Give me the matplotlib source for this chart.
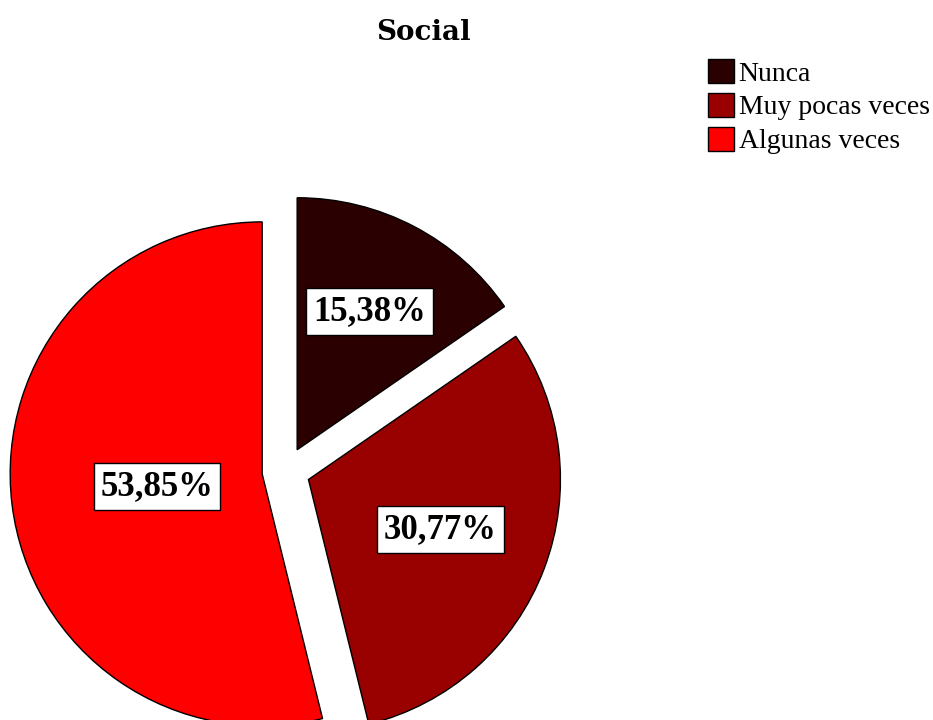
import numpy as np
import matplotlib
matplotlib.use("Agg")
import matplotlib.pyplot as plt

plt.rcParams['font.family'] = ['Liberation Serif', 'DejaVu Serif']

categorias = ['Nunca', 'Muy pocas veces', 'Algunas veces']
porcentajes = [15.38, 30.77, 53.85]
etiquetas = ['15,38%', '30,77%', '53,85%']
colores = ['#2b0000', '#990000', '#ff0000']

# distancia de cada etiqueta desde el vértice del sector (fracción del radio)
dist_etiqueta = [0.62, 0.56, 0.42]

centro = (286, 249)
radio = 252
separacion = 24  # en unidades de datos (píxeles)

fig = plt.figure(figsize=(9.33, 7.2), dpi=100)
ax = fig.add_axes([0, 0, 1, 1])

wedges, _ = ax.pie(porcentajes, colors=colores, startangle=90, counterclock=False,
                   center=centro, radius=radio, explode=[separacion] * 3,
                   wedgeprops=dict(edgecolor='black', linewidth=1.0), frame=True)
ax.set_xlim(0, 933)
ax.set_ylim(0, 720)
ax.set_aspect('equal')
ax.axis('off')

for w, txt, d in zip(wedges, etiquetas, dist_etiqueta):
    ang = np.deg2rad((w.theta1 + w.theta2) / 2)
    cx, cy = w.center
    ax.text(cx + d * radio * np.cos(ang), cy + d * radio * np.sin(ang), txt,
            ha='center', va='center', fontsize=25, fontweight='bold',
            bbox=dict(boxstyle='square,pad=0.2', facecolor='white',
                      edgecolor='black', linewidth=1.0))

fig.text(423 / 933, 1 - 32 / 720, 'Social', ha='center', va='center',
         fontsize=20, fontweight='bold', family='DejaVu Serif')

fig.legend(wedges, categorias, loc='upper left', bbox_to_anchor=(708 / 933, 1 - 59 / 720),
           frameon=False, fontsize=20, handlelength=0.95, handleheight=0.95,
           handletextpad=0.15, labelspacing=0.23, borderpad=0, borderaxespad=0)

fig.savefig('out.png', dpi=100, facecolor='white')
